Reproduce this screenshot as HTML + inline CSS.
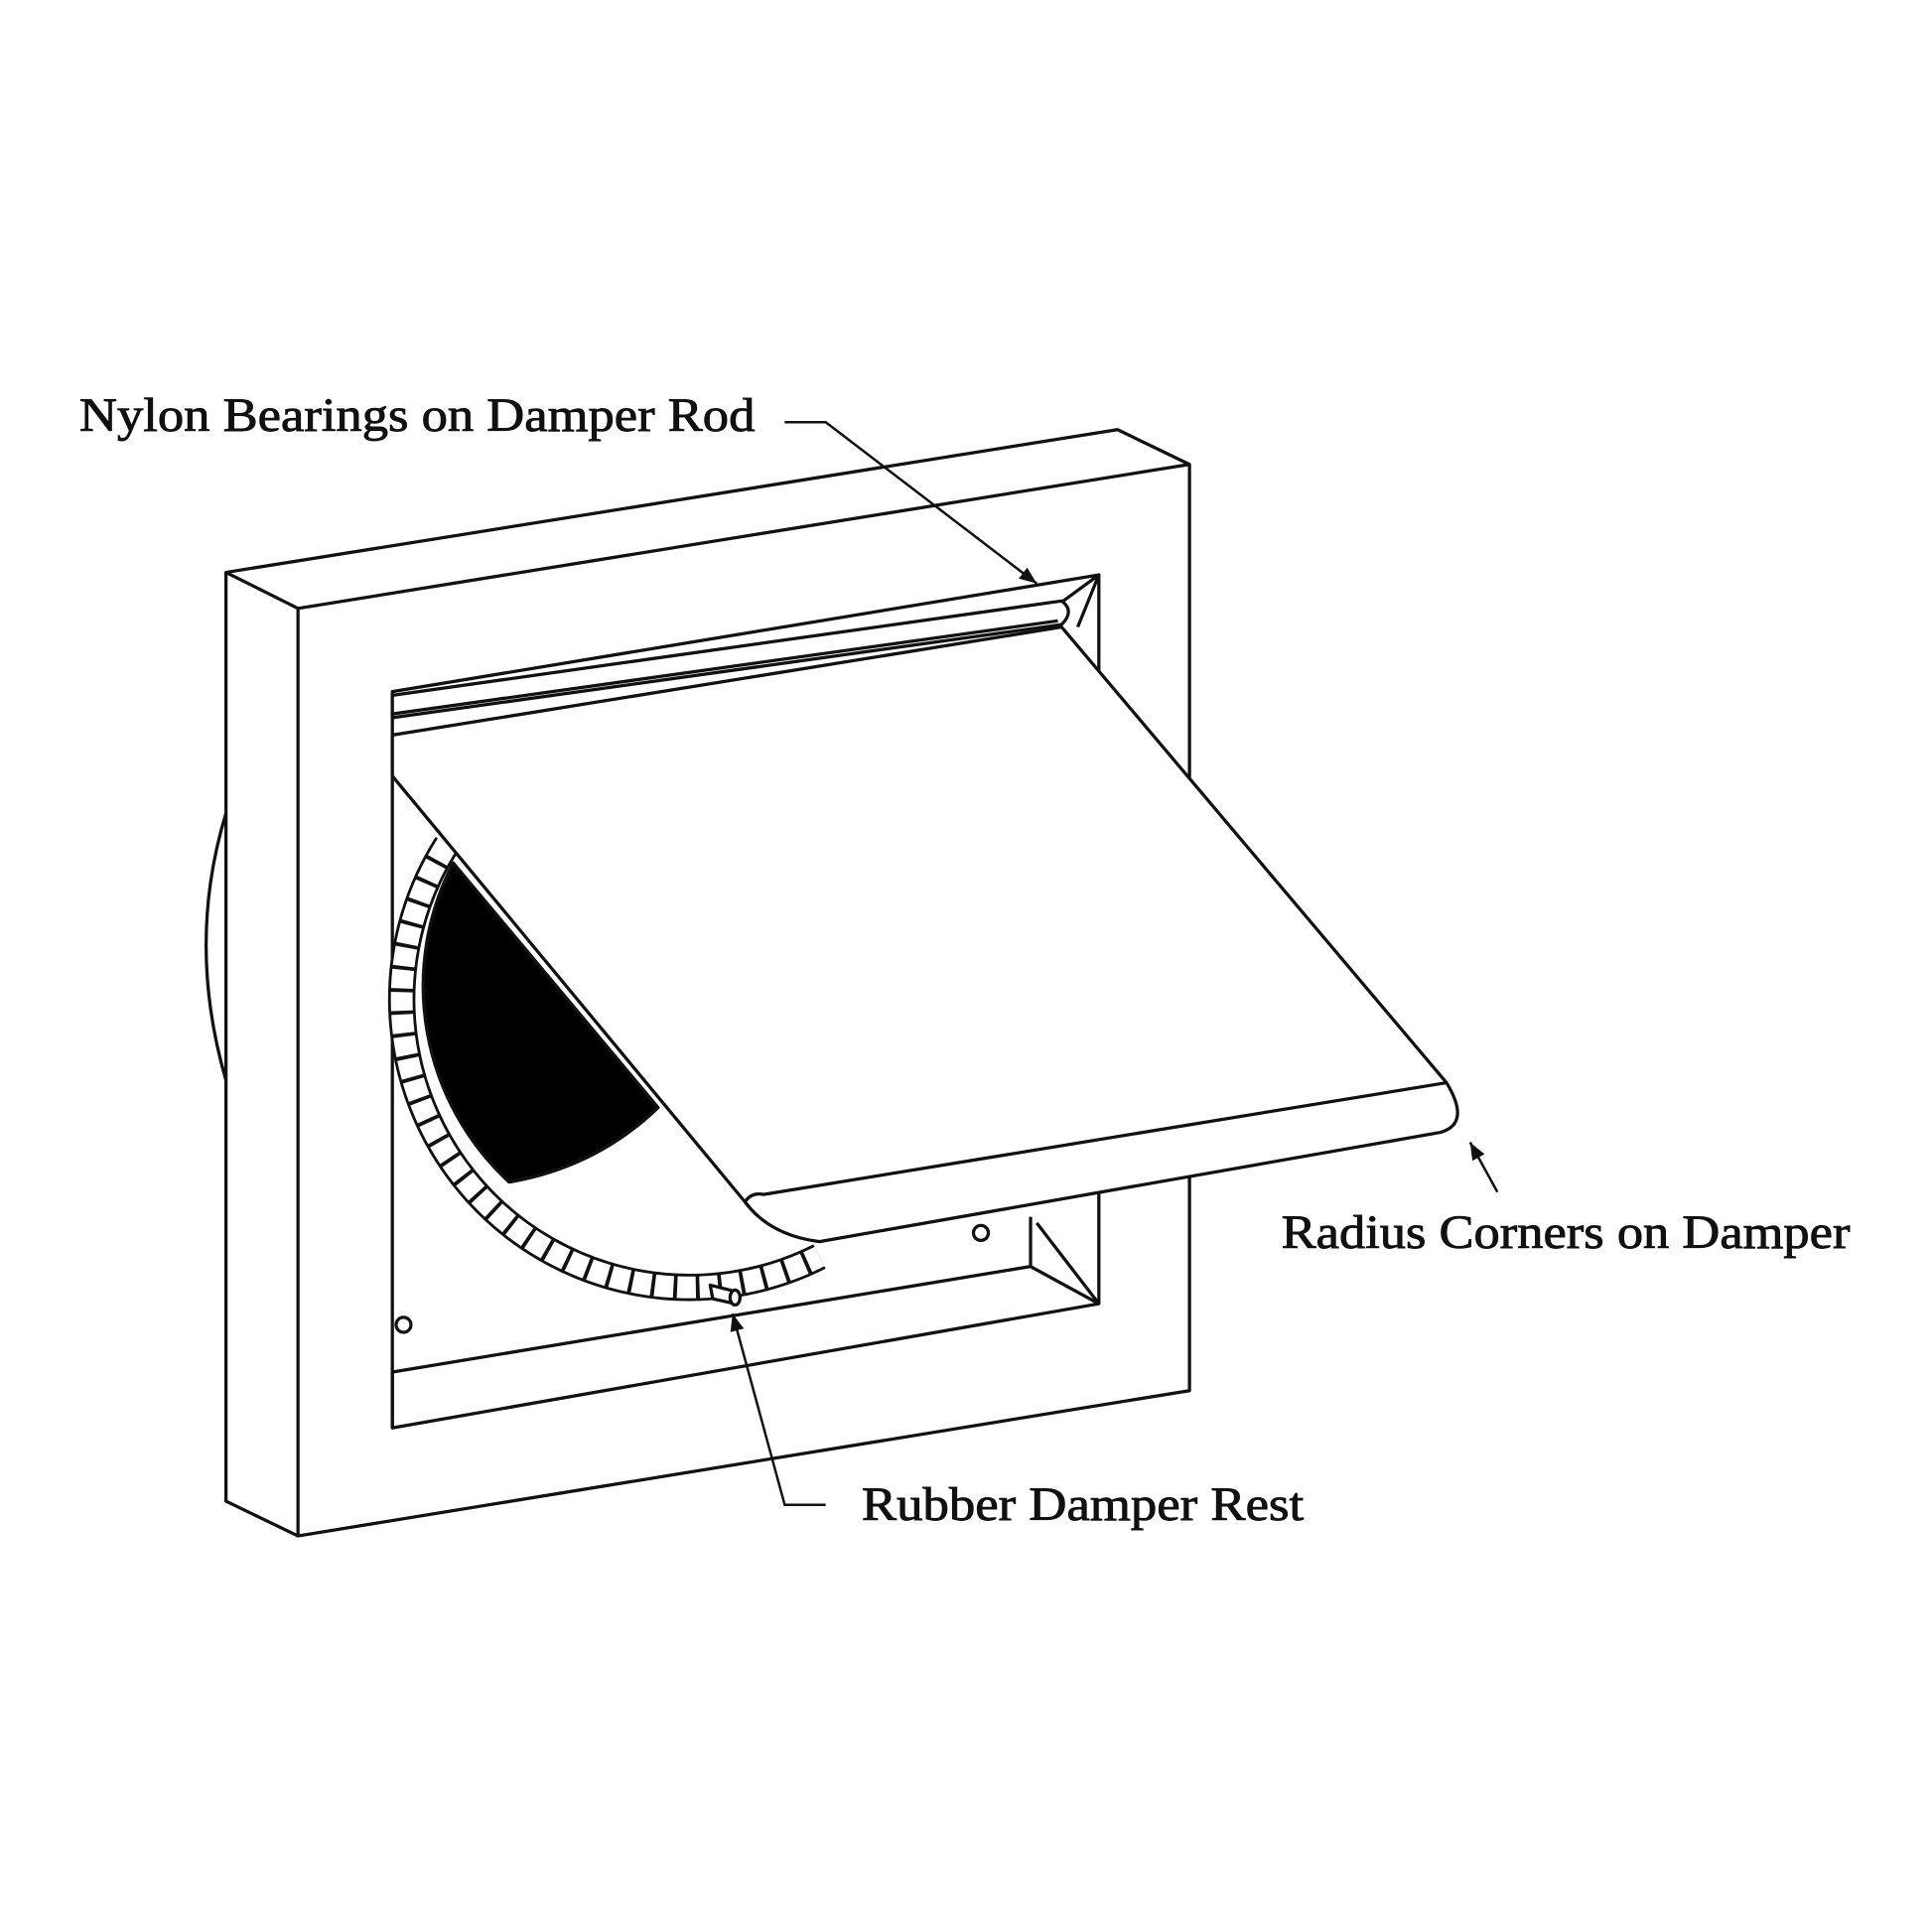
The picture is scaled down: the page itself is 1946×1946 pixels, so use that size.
<!DOCTYPE html><html><head><style>html,body{margin:0;padding:0;background:#fff}svg{display:block}</style></head><body>
<svg width="1946" height="1946" viewBox="0 0 1556 1556" xmlns="http://www.w3.org/2000/svg">
<defs><marker id="a" viewBox="0 0 10 10" refX="10" refY="5" markerWidth="7" markerHeight="7" orient="auto"><path d="M0,1L10,5L0,9z" fill="#111"/></marker></defs>
<g fill="#fff" stroke="#111" stroke-width="2.6" stroke-linejoin="round">
<path d="M182,655 Q150,760 182,870" fill="none"/>
<path d="M182,461 L900,346 L958,374 L958,1120 L240,1237 L182,1209 Z"/>
<path d="M182,461 L240,490 L958,374 M240,490 L240,1237" fill="none"/>
<path d="M316,557 L885,463 L885,1050 L316,1150 Z"/>
<path d="M316,1105 L830,1020 L830,980 M830,1020 L885,1050 M835,985 L885,1050 M316,1105 L316,1150" fill="none"/>
<path d="M855,485 L885,463 L868,505" fill="none"/>
<circle cx="325" cy="1067" r="6"/><circle cx="790" cy="993" r="6"/>
<path d="M360,680 A232,232 0 0 0 660,1012" fill="none" stroke-width="22" stroke="#111"/>
<path d="M360,680 A232,232 0 0 0 660,1012" fill="none" stroke-width="17.5" stroke="#fff" stroke-dasharray="15 3"/>
<path d="M365,695 A215,215 0 0 0 410,952 Q480,940 530,892 Z" fill="#000"/>
<path d="M410,952 Q480,940 530,892" fill="none"/>
<path d="M316,560 L855,484 Q866,492 855,503 L316,578 Z"/>
<path d="M316,575 L852,500" fill="none"/>
<path d="M316,592 L855,505 L1165,872 Q1185,905 1160,912 L660,1000 Q620,995 600,968 L316,625 Z"/>
<path d="M600,968 Q605,960 615,962 L1165,872" fill="none"/>
<path d="M572,1035 L592,1040 L592,1050 L574,1046 Z"/><ellipse cx="592" cy="1045" rx="4" ry="6"/>
</g>
<g stroke="#111" stroke-width="2" fill="none">
<path d="M632,340 L665,340 L835,470" marker-end="url(#a)"/>
<path d="M1206,960 L1184,920" marker-end="url(#a)"/>
<path d="M665,1212 L632,1212 L590,1058" marker-end="url(#a)"/>
</g>
<g font-family="Liberation Serif, serif" font-size="38" fill="#111" stroke="#111" stroke-width="0.7" lengthAdjust="spacingAndGlyphs">
<text x="64" y="347" textLength="544" lengthAdjust="spacingAndGlyphs">Nylon Bearings on Damper Rod</text>
<text x="1032" y="1005" textLength="458" lengthAdjust="spacingAndGlyphs">Radius Corners on Damper</text>
<text x="694" y="1224" textLength="356" lengthAdjust="spacingAndGlyphs">Rubber Damper Rest</text>
</g>
</svg></body></html>
